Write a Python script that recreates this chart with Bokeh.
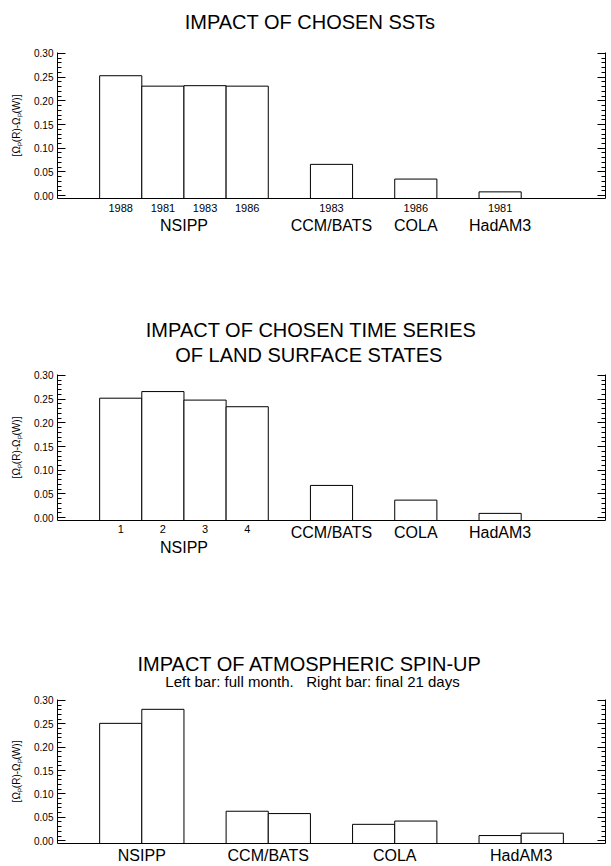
from bokeh.plotting import figure
from bokeh.layouts import column
from bokeh.models import (Range1d, LinearAxis, SingleIntervalTicker, PrintfTickFormatter,
                          FixedTicker, ColumnDataSource, Title, CustomJSTickFormatter)
from bokeh.embed import file_html
from bokeh.resources import INLINE

# ---------------- data ----------------
models = ["NSIPP", "CCM/BATS", "COLA", "HadAM3"]

# Panel 1: impact of chosen SSTs
sst_groups = ["NSIPP", "NSIPP", "NSIPP", "NSIPP", "CCM/BATS", "COLA", "HadAM3"]
sst_years = ["1988", "1981", "1983", "1986", "1983", "1986", "1981"]
sst_values = [0.253, 0.231, 0.232, 0.231, 0.066, 0.035, 0.008]

# Panel 2: impact of chosen time series of land surface states
lss_groups = ["NSIPP", "NSIPP", "NSIPP", "NSIPP", "CCM/BATS", "COLA", "HadAM3"]
lss_labels = ["1", "2", "3", "4", "", "", ""]
lss_values = [0.252, 0.266, 0.248, 0.234, 0.068, 0.037, 0.009]

# Panel 3: impact of atmospheric spin-up (left bar full month, right bar final 21 days)
spin_full = [0.251, 0.063, 0.035, 0.011]
spin_final21 = [0.281, 0.058, 0.042, 0.016]

titles1 = ["IMPACT OF CHOSEN SSTs"]
titles2 = ["IMPACT OF CHOSEN TIME SERIES", "OF LAND SURFACE STATES"]
titles3 = ["IMPACT OF ATMOSPHERIC SPIN-UP"]
subtitle3 = "Left bar: full month.\u00a0\u00a0\u00a0Right bar: final 21 days"
ylabel = "[\u03a9\u209a(R)-\u03a9\u209a(W)]"

# ---------------- layout constants ----------------
FONT = "Liberation Sans"
W = 611
LEFT, RIGHT = 57, 6
X0, X1 = 0.0, 13.0
Y0, Y1 = -0.006, 0.302
TITLE_CENTER = 312  # horizontal centre of the titles, in pixels

# approximate Arial / Liberation Sans advance widths (em)
_CW = {" ": .278, "\u00a0": .278, ".": .278, ":": .278, "-": .333, "/": .278}
for ch in "ACDHNRUw":
    _CW[ch] = .722
for ch in "BEKPSVXY":
    _CW[ch] = .667
for ch in "FTZ":
    _CW[ch] = .611
_CW.update({"G": .778, "O": .778, "Q": .778, "M": .833, "W": .944, "I": .278, "J": .5, "L": .556})
for ch in "abdeghnopqu0123456789":
    _CW[ch] = .556
_CW.update({"c": .5, "k": .5, "s": .5, "v": .5, "x": .5, "y": .5, "z": .5,
            "f": .278, "t": .278, "i": .222, "j": .222, "l": .222, "r": .333, "m": .833})


def text_width(s, size):
    return sum(_CW.get(c, .6) for c in s) * size


def slots(groups):
    lefts, centers = [], {}
    x, prev = 1, None
    for g in groups:
        if prev is not None and g != prev:
            x += 1
        lefts.append(x)
        centers.setdefault(g, []).append(x + 0.5)
        x += 1
        prev = g
    return lefts, {g: sum(v) / len(v) for g, v in centers.items()}


def key(v):
    return int(v) if float(v).is_integer() else v


def base_fig(height, top, bottom):
    p = figure(width=W, height=height, x_range=Range1d(X0, X1), y_range=Range1d(Y0, Y1),
               output_backend="svg", toolbar_location=None, title=None,
               min_border_left=LEFT, min_border_right=RIGHT,
               min_border_top=top, min_border_bottom=bottom,
               x_axis_type=None, y_axis_type=None)
    p.outline_line_color = None
    p.background_fill_color = "white"
    p.border_fill_color = "white"
    return p


def make_fig(height, top, bottom):
    p = base_fig(height, top, bottom)
    yl = LinearAxis(ticker=SingleIntervalTicker(interval=0.05, num_minor_ticks=5),
                    formatter=PrintfTickFormatter(format="%.2f"))
    yl.axis_label = ylabel
    yl.axis_label_text_font = FONT
    yl.axis_label_text_font_size = "10px"
    yl.axis_label_text_font_style = "normal"
    yl.axis_label_text_color = "black"
    yl.axis_label_standoff = 9
    yl.major_label_text_font = FONT
    yl.major_label_text_font_size = "10px"
    yl.major_label_text_color = "black"
    yl.major_label_standoff = 4
    yr = LinearAxis(ticker=SingleIntervalTicker(interval=0.05, num_minor_ticks=5),
                    formatter=CustomJSTickFormatter(code="return ''"))
    yr.major_label_standoff = 0
    for ax in (yl, yr):
        ax.major_tick_in = 8
        ax.major_tick_out = 0
        ax.minor_tick_in = 4
        ax.minor_tick_out = 0
        ax.axis_line_color = "black"
        ax.major_tick_line_color = "black"
        ax.minor_tick_line_color = "black"
    p.add_layout(yl, "left")
    p.add_layout(yr, "right")
    return p


def add_label_axis(p, positions, labels, size, standoff, line=False):
    ax = LinearAxis(ticker=FixedTicker(ticks=list(positions)))
    ax.major_label_overrides = {key(x): s for x, s in zip(positions, labels)}
    ax.major_label_text_font = FONT
    ax.major_label_text_font_size = size
    ax.major_label_text_color = "black"
    ax.major_label_standoff = standoff
    ax.major_tick_in = 0
    ax.major_tick_out = 0
    ax.minor_tick_in = 0
    ax.minor_tick_out = 0
    ax.axis_line_color = "black" if line else None
    p.add_layout(ax, "below")


def add_title(p, s, size, standoff):
    off = TITLE_CENTER - text_width(s, size) / 2 - LEFT
    p.add_layout(Title(text=s, align="left", offset=off, text_font=FONT,
                       text_font_size="%dpx" % size, text_font_style="normal",
                       text_color="black", standoff=standoff), "above")


def add_bars(p, lefts, values):
    src = ColumnDataSource(dict(left=lefts, right=[l + 1 for l in lefts],
                                top=values, bottom=[Y0] * len(values)))
    p.quad(left="left", right="right", top="top", bottom="bottom", source=src,
           fill_color="white", line_color="black", line_width=1)


# ---------------- header holding the first title ----------------
p0 = base_fig(46, 0, 0)
add_title(p0, titles1[0], 20, 17)

# ---------------- panel 1 ----------------
p1 = make_fig(254, 6, 102)
l1, c1 = slots(sst_groups)
add_bars(p1, l1, sst_values)
add_label_axis(p1, [l + 0.5 for l in l1], sst_years, "11px", 5, line=True)
add_label_axis(p1, [c1[g] for g in models], models, "16px", 2)

# ---------------- panel 2 ----------------
p2 = make_fig(320, 74, 100)
l2, c2 = slots(lss_groups)
add_bars(p2, l2, lss_values)
num_pos = [l + 0.5 for l, s in zip(l2, lss_labels) if s]
num_lab = [s for s in lss_labels if s]
add_label_axis(p2, num_pos, num_lab, "11px", 4, line=True)
add_label_axis(p2, [c2[g] for g in models[1:]], models[1:], "16px", -12)
add_label_axis(p2, [c2["NSIPP"]], ["NSIPP"], "16px", -5)
add_title(p2, titles2[1], 20, 18)
add_title(p2, titles2[0], 20, -17)

# ---------------- panel 3 ----------------
p3 = make_fig(246, 79, 21)
spin_groups, spin_values = [], []
for g, a, b in zip(models, spin_full, spin_final21):
    spin_groups += [g, g]
    spin_values += [a, b]
l3, c3 = slots(spin_groups)
add_bars(p3, l3, spin_values)
add_label_axis(p3, [c3[g] for g in models], models, "16px", 3, line=True)
add_title(p3, subtitle3, 15, 20)
add_title(p3, titles3[0], 20, -28)

layout = column(p0, p1, p2, p3, spacing=0)
open("out.html", "w").write(file_html(layout, INLINE))
